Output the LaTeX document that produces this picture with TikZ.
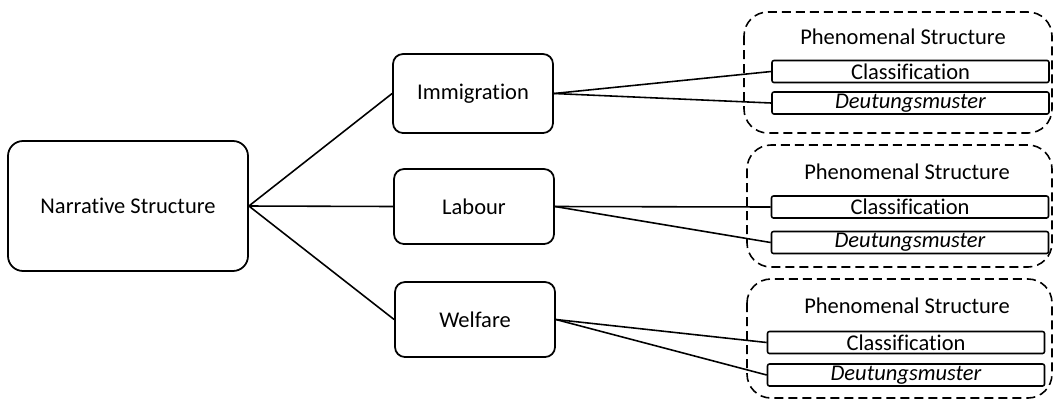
\documentclass[tikz,border=0pt]{standalone}
\usepackage{fontspec}
\setmainfont[Ligatures=NoCommon]{Carlito}
\newlength{\du}
\setlength{\du}{0.02cm}
\tikzset{
  topicbox/.style={draw, rounded corners=10\du, line width=1pt, minimum width=160\du, align=center},
  partbox/.style={draw, rounded corners=2\du, line width=0.9pt, minimum width=277\du, minimum height=22\du, inner sep=0pt},
  groupbox/.style={draw, dashed, dash pattern=on 9\du off 5\du, rounded corners=24\du, line width=0.9pt},
  link/.style={line width=0.9pt}
}
\begin{document}
\begin{tikzpicture}[x=\du,y=-\du,font=\fontsize{12.8}{15}\selectfont]
\useasboundingbox (0,0) rectangle (1055,400);
% main node
\node[topicbox, rounded corners=15\du, minimum width=240\du, minimum height=130\du] (narr) at (128,206) {Narrative Structure};
% topics
\node[topicbox, minimum height=79\du] (immig) at (473,93.5) {Immigration};
\node[topicbox, minimum height=75\du] (labour) at (474,206.5) {Labour};
\node[topicbox, minimum height=75\du] (welfare) at (475,319.5) {Welfare};
% phenomenal structure groups
\draw[groupbox] (744,12) rectangle (1052,133);
\draw[groupbox] (747,145) rectangle (1052,267);
\draw[groupbox] (747,279) rectangle (1052,398);
\node (ph1) at (903,37) {Phenomenal Structure};
\node (ph2) at (907,172) {Phenomenal Structure};
\node (ph3) at (907,306) {Phenomenal Structure};
\node[partbox] (class1) at (910.5,71.5) {Classification};
\node[partbox] (deut1) at (910.5,103) {\itshape Deutungsmuster};
\node[partbox] (class2) at (910,207) {Classification};
\node[partbox] (deut2) at (910,242.5) {\itshape Deutungsmuster};
\node[partbox] (class3) at (906,342.5) {Classification};
\node[partbox] (deut3) at (906,375) {\itshape Deutungsmuster};
% links
\draw[link] (narr.east) -- (immig.west);
\draw[link] (narr.east) -- (labour.west);
\draw[link] (narr.east) -- (welfare.west);
\draw[link] (immig.east) -- (class1.west);
\draw[link] (immig.east) -- (deut1.west);
\draw[link] (labour.east) -- (class2.west);
\draw[link] (labour.east) -- (deut2.west);
\draw[link] (welfare.east) -- (class3.west);
\draw[link] (welfare.east) -- (deut3.west);
\end{tikzpicture}
\end{document}
